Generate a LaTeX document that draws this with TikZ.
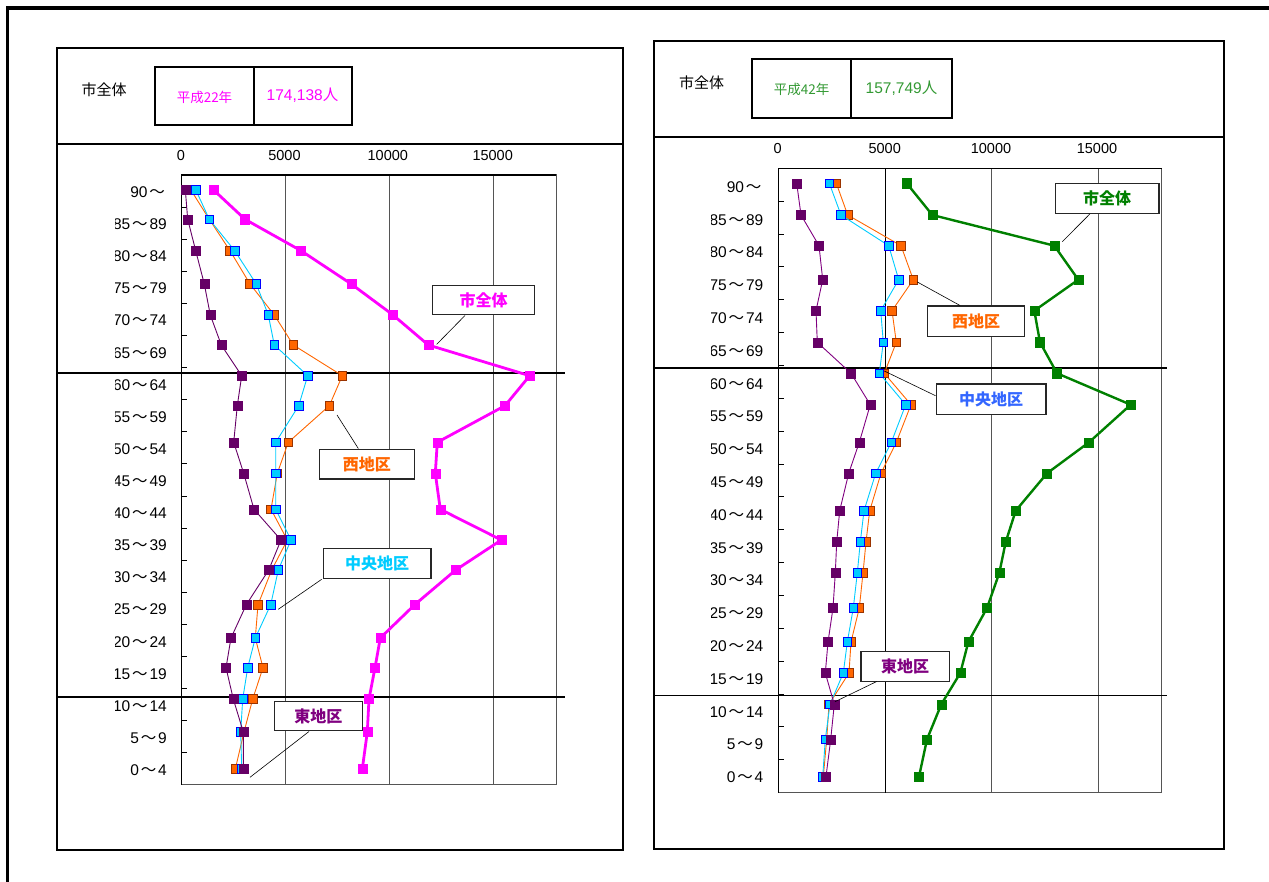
\documentclass[tikz,border=0pt]{standalone}
\usepackage{fontspec}
\setmainfont{Liberation Sans}
\newfontfamily\cjk{Noto Sans CJK JP}
\usetikzlibrary{plotmarks}
\definecolor{mag}{HTML}{FF00FF}
\definecolor{org}{HTML}{FF6600}
\definecolor{orgd}{HTML}{993300}
\definecolor{cya}{HTML}{00CCFF}
\definecolor{blu}{HTML}{0000FF}
\definecolor{pur}{HTML}{660066}
\definecolor{grn}{HTML}{008000}
\definecolor{hgrn}{HTML}{339933}
\definecolor{gridc}{HTML}{555555}
\definecolor{lblblue}{HTML}{3366FF}
\definecolor{lblpur}{HTML}{800080}
\newcommand\wv{\kern1.9pt{\cjk ～}\kern1.9pt}
\tikzset{
  agel/.style={font=\fontsize{15.5}{18}\selectfont, anchor=base east, inner sep=0pt},
  axnum/.style={font=\fontsize{14.5}{17}\selectfont, anchor=base, inner sep=0pt},
  lbox/.style={draw=black!85, line width=1.2pt, fill=white, inner sep=0pt,
    font=\cjk\bfseries\fontsize{16}{18}\selectfont},
  leader/.style={draw=black, line width=0.6pt},
  panel/.style={draw=black, line width=2pt},
  gridline/.style={draw=gridc, line width=1pt},
  septhick/.style={draw=black, line width=2pt},
  bigser/.style={line width=2.8pt},
  smallser/.style={line width=0.9pt},
  bigmk/.style={mark=square*, mark size=4.6pt, mark options={fill=#1, draw=#1, line width=0.4pt}},
  orgmk/.style={mark=square*, mark size=4.3pt, mark options={fill=org, draw=orgd, line width=0.7pt}},
  cyamk/.style={mark=square*, mark size=4.3pt, mark options={fill=cya, draw=blu, line width=0.8pt}},
  purmk/.style={mark=square*, mark size=4.5pt, mark options={fill=pur, draw=pur, line width=0.4pt}},
}
\begin{document}
\begin{tikzpicture}[x=1pt,y=-1pt]
\useasboundingbox (0,0) rectangle (1269,882);
% outer frame
\draw[black, line width=3.5pt] (7.5,882) -- (7.5,8) -- (1269,8);

% ================= LEFT PANEL =================
\draw[panel] (57,47.7) rectangle (622.7,849.7);
\draw[panel] (57,143.7) -- (622.7,143.7);
\node[font=\cjk\fontsize{15}{18}\selectfont] (Lt) at (104,90) {市全体};
\draw[panel] (155,67) rectangle (352,125);
\draw[panel] (254,67) -- (254,125);
\node[text=mag, font=\cjk\fontsize{13.5}{15}\selectfont] (Ly) at (204.5,97.7) {平成22年};
\node[text=mag, font=\fontsize{15.5}{18}\selectfont] (Lp) at (302.5,95) {174,138{\cjk 人}};

% axis numbers
\node[axnum] (La0) at (180.8,161) {0};
\node[axnum] (La1) at (284.5,161) {5000};
\node[axnum] (La2) at (387.8,161) {10000};
\node[axnum] (La3) at (492.7,161) {15000};

% plot frame and grid
\draw[gridline] (181.3,175) rectangle (556,784.7);
\foreach \gx in {285.5,389.5,493.7} \draw[gridline] (\gx,175) -- (\gx,784.7);
\draw[black, line width=1.3pt] (181.3,175) -- (181.3,785.2);
\draw[black, line width=1.3pt] (181.3,175) -- (556,175);
\foreach \k in {1,...,18} \draw[black, line width=0.9pt] (181.3,175+32.1*\k) -- (186.5,175+32.1*\k);

% age labels (clipped)
\begin{scope}
\clip (115.5,170) rectangle (180,800);
\foreach \lab [count=\i from 0] in {90\wv,85\wv89,80\wv84,75\wv79,70\wv74,65\wv69,60\wv64,55\wv59,50\wv54,45\wv49,40\wv44,35\wv39,30\wv34,25\wv29,20\wv24,15\wv19,10\wv14,5\wv9,0\wv4}
  \node[agel] (Lag\i) at (167,197.6+32.1*\i) {\lab};
\end{scope}

% separators
\draw[septhick] (57,372.7) -- (564.5,372.7);
\draw[septhick] (57,697) -- (564.5,697);

% series
\draw[mag, bigser] plot[bigmk=mag] coordinates {(213.3,189.7) (245,219.3) (301,250.7) (351.3,284) (393,315) (428.3,345) (529.7,375.7) (505,405.7) (437.3,442.3) (435.3,473.3) (440.3,509.3) (501.3,540) (455.7,570) (414.7,604.7) (380.3,638) (375,667.7) (369,699) (367.3,732) (362.3,769)};
\draw[org, smallser] plot[orgmk] coordinates {(190.7,189.7) (209.3,219.3) (230,250.7) (250,284) (274.3,315) (293.3,345) (342.3,375.7) (329.3,405.7) (288.3,442.3) (277.3,473.3) (271,509.3) (287.3,540) (271.7,570) (258,604.7) (255.3,638) (263,667.7) (252.7,699) (244,732) (235.3,769)};
\draw[cya, smallser] plot[cyamk] coordinates {(195.7,189.7) (209.3,219.3) (234.7,250.7) (256.3,284) (268.3,315) (274.3,345) (307.7,375.7) (298.7,405.7) (275.7,442.3) (275.7,473.3) (275.7,509.3) (291,540) (278.3,570) (270.7,604.7) (255.3,638) (247.7,667.7) (242.7,699) (240.7,732) (241.7,769)};
\draw[pur, smallser] plot[purmk] coordinates {(185.3,189.7) (187.7,219.3) (195.7,250.7) (204.3,284) (210.3,315) (221.3,345) (241.7,375.7) (237.3,405.7) (233.7,442.3) (243.7,473.3) (254,509.3) (281,540) (268.7,570) (246.3,604.7) (231,638) (226,667.7) (233.3,699) (243.3,732) (243.3,769)};

% label boxes
\node[lbox, text=mag, minimum width=102.4pt, minimum height=29.4pt] (LbA) at (483.5,300) {市全体};
\coordinate (LbA1) at (465,315.5); \coordinate (LbA2) at (436.7,344.3);
\draw[leader] (LbA1) -- (LbA2);
\node[lbox, text=org, minimum width=95pt, minimum height=29.7pt] (LbW) at (366.8,464.2) {西地区};
\coordinate (LbW1) at (358.3,448.5); \coordinate (LbW2) at (337,415);
\draw[leader] (LbW1) -- (LbW2);
\node[lbox, text=cya, minimum width=107.7pt, minimum height=30pt] (LbC) at (377.2,563.3) {中央地区};
\coordinate (LbC1) at (321.7,579.3); \coordinate (LbC2) at (278.3,609.3);
\draw[leader] (LbC1) -- (LbC2);
\node[lbox, text=lblpur, minimum width=88pt, minimum height=29.4pt] (LbE) at (318.3,716) {東地区};
\coordinate (LbE1) at (309,731.5); \coordinate (LbE2) at (250,777.3);
\draw[leader] (LbE1) -- (LbE2);

% ================= RIGHT PANEL =================
\draw[panel] (654,40.7) rectangle (1224,849.3);
\draw[panel] (654,136.7) -- (1224,136.7);
\node[font=\cjk\fontsize{15}{18}\selectfont] (Rt) at (701.5,82.5) {市全体};
\draw[panel] (752,59) rectangle (952,118);
\draw[panel] (851.4,59) -- (851.4,118);
\node[text=hgrn, font=\cjk\fontsize{13.5}{15}\selectfont] (Ry) at (801.6,89.3) {平成42年};
\node[text=hgrn, font=\fontsize{15.5}{18}\selectfont] (Rp) at (901.5,88.3) {157,749{\cjk 人}};

\node[axnum] (Ra0) at (777.6,153.5) {0};
\node[axnum] (Ra1) at (884.7,153.5) {5000};
\node[axnum] (Ra2) at (991,153.5) {10000};
\node[axnum] (Ra3) at (1097,153.5) {15000};

\draw[gridline] (778.7,168.3) rectangle (1161.7,792.7);
\foreach \gx in {991.7,1098} \draw[gridline] (\gx,168.3) -- (\gx,792.7);
\draw[black, line width=1pt] (885.3,168.3) -- (885.3,792.7);
\draw[black, line width=1.3pt] (778.7,168.3) -- (778.7,793.2);
\draw[black, line width=1.3pt] (778.7,168.3) -- (1161.7,168.3);
\foreach \k in {1,...,18} \draw[black, line width=0.9pt] (778.7,168.3+32.86*\k) -- (783.9,168.3+32.86*\k);

\begin{scope}
\clip (711.3,160) rectangle (777,800);
\foreach \lab [count=\i from 0] in {90\wv,85\wv89,80\wv84,75\wv79,70\wv74,65\wv69,60\wv64,55\wv59,50\wv54,45\wv49,40\wv44,35\wv39,30\wv34,25\wv29,20\wv24,15\wv19,10\wv14,5\wv9,0\wv4}
  \node[agel] (Rag\i) at (763.5,192.3+32.8*\i) {\lab};
\end{scope}

\draw[septhick] (654,367.7) -- (1166.7,367.7);
\draw[black, line width=1pt] (654,695.3) -- (1166.7,695.3);

\draw[grn, line width=2.4pt] plot[bigmk=grn] coordinates {(906.7,183.3) (932.3,215) (1054.3,245.7) (1078.3,279.7) (1034.3,310.7) (1040,342.3) (1057,373.3) (1130.7,404.7) (1089,442.3) (1047,473.3) (1015.7,510.7) (1005.7,542) (999.3,573) (987,608) (968.3,642) (960.3,673) (941.3,704.3) (927,739.3) (919,776.7)};
\draw[org, smallser] plot[orgmk] coordinates {(836.3,183.3) (847.7,215) (901,245.7) (913.3,279.7) (892,310.7) (896.3,342.3) (884.3,373.3) (911,404.7) (896.3,442.3) (881,473.3) (869.7,510.7) (866,542) (863,573) (859.3,608) (851,642) (849,673) (829,704.3) (826.7,739.3) (823.3,776.7)};
\draw[cya, smallser] plot[cyamk] coordinates {(829.3,183.3) (841,215) (888.7,245.7) (898.7,279.7) (880.7,310.7) (883.3,342.3) (879.3,373.3) (905.7,404.7) (891.3,442.3) (875.7,473.3) (864,510.7) (860.3,542) (857.3,573) (853.3,608) (847.3,642) (843.3,673) (830,704.3) (825.3,739.3) (822.7,776.7)};
\draw[lblpur, smallser] plot[purmk] coordinates {(796.7,183.3) (801,215) (819,245.7) (822.7,279.7) (816,310.7) (817.3,342.3) (851,373.3) (870.3,404.7) (859.3,442.3) (848.7,473.3) (839.7,510.7) (836.7,542) (835.3,573) (833,608) (828,642) (825.3,673) (834.3,704.3) (830.7,739.3) (826,776.7)};

\node[lbox, text=grn, minimum width=103.7pt, minimum height=30pt] (RbA) at (1107.2,198.3) {市全体};
\coordinate (RbA1) at (1090,213.8); \coordinate (RbA2) at (1062.3,241.7);
\draw[leader] (RbA1) -- (RbA2);
\node[lbox, text=org, minimum width=96.6pt, minimum height=30.3pt] (RbW) at (976,321.2) {西地区};
\coordinate (RbW1) at (960,305.5); \coordinate (RbW2) at (917.3,282);
\draw[leader] (RbW1) -- (RbW2);
\node[lbox, text=lblblue, minimum width=109.7pt, minimum height=30.3pt] (RbC) at (991.2,399.2) {中央地区};
\coordinate (RbC1) at (935.5,395.7); \coordinate (RbC2) at (884.3,371);
\draw[leader] (RbC1) -- (RbC2);
\node[lbox, text=lblpur, minimum width=88.3pt, minimum height=30pt] (RbE) at (905.2,666.3) {東地区};
\coordinate (RbE1) at (876.7,681.5); \coordinate (RbE2) at (835,701.7);
\draw[leader] (RbE1) -- (RbE2);
\end{tikzpicture}
\end{document}
